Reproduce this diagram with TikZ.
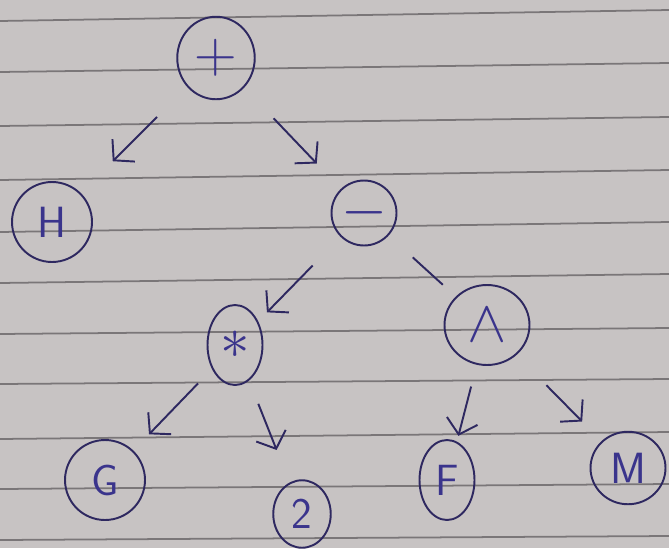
\documentclass[tikz,border=0pt]{standalone}
\usepackage{xcolor}
\usepackage{tikz}
\usetikzlibrary{arrows.meta,shapes.geometric}
\definecolor{ink}{RGB}{46,40,96}
\definecolor{pen}{RGB}{58,52,140}
\definecolor{paper}{RGB}{199,195,195}
\definecolor{rule}{RGB}{122,118,120}
\newcommand{\sym}[1]{\scalebox{1.35}{$#1$}}
\begin{document}
\begin{tikzpicture}[x=0.02cm,y=-0.02cm,
  vertex/.style={ellipse,draw=ink,line width=1.1pt,inner sep=0pt,text=pen,
                 font=\sffamily\Huge},
  line/.style={draw=ink,line width=1.1pt,-{Straight Barb[length=8pt,width=18pt]}},
  tie/.style={draw=ink,line width=1.1pt}]
% sheet of ruled paper
\fill[paper] (0,0) rectangle (669,548);
\useasboundingbox (0,0) rectangle (669,548);
\foreach \yl/\yr in {21/10,72/63,126/117,180/170,232/222,283/274,334/328,384/379,439/432,489/484,540/536}
  \draw[rule,line width=1pt] (0,\yl) -- (669,\yr);
\node[vertex,minimum width=1.55cm,minimum height=1.65cm] (plus)  at (216,58)  {\sym{+}};
\node[vertex,minimum width=1.6cm,minimum height=1.6cm]   (h)     at (52,222)  {H};
\node[vertex,minimum width=1.3cm,minimum height=1.3cm]   (minus) at (364,213) {\sym{-}};
\node[vertex,minimum width=1.7cm,minimum height=1.6cm]   (pow)   at (487,325) {\sym{\wedge}};
\node[vertex,minimum width=1.1cm,minimum height=1.6cm]   (times) at (235,345) {\sym{\ast}};
\node[vertex,minimum width=1.6cm,minimum height=1.6cm]   (g)     at (105,480) {G};
\node[vertex,minimum width=1.15cm,minimum height=1.35cm] (two)   at (302,514) {2};
\node[vertex,minimum width=1.1cm,minimum height=1.6cm]   (f)     at (447,480) {F};
\node[vertex,minimum width=1.5cm,minimum height=1.45cm]  (m)     at (628,468) {M};
\path[line,shorten <=0.85cm,shorten >=0.9cm]  (plus)  -- (h);
\path[line,shorten <=0.85cm,shorten >=0.7cm]  (plus)  -- (minus);
\path[line,shorten <=0.8cm,shorten >=0.25cm]  (minus) -- (times);
\path[tie,shorten <=0.65cm,shorten >=0.35cm]  (minus) -- (pow);
\path[line,shorten <=0.4cm,shorten >=0.45cm]  (times) -- (g);
\path[line,shorten <=0.5cm,shorten >=0.7cm]   (times) -- (two);
\path[line,shorten <=0.45cm,shorten >=0.12cm] (pow)   -- (f);
\path[line,shorten <=0.85cm,shorten >=0.55cm] (pow)   -- (m);
\end{tikzpicture}
\end{document}
